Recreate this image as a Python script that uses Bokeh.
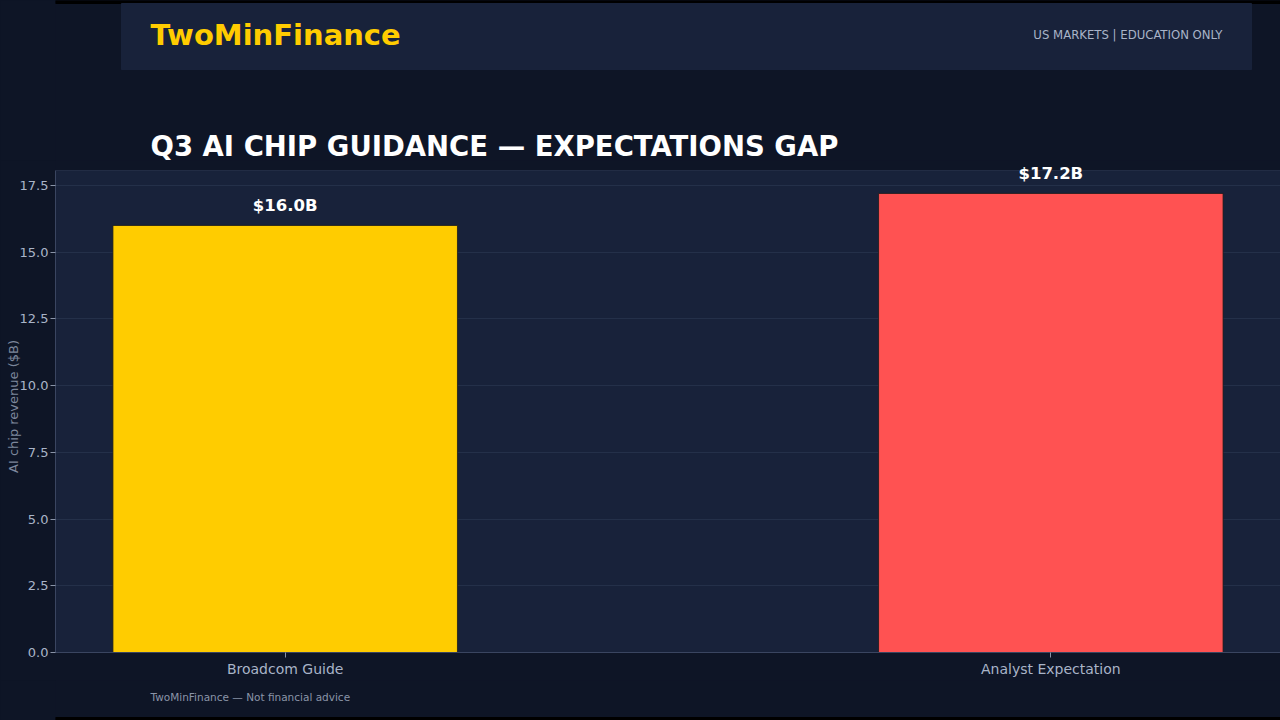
from bokeh.plotting import figure
from bokeh.layouts import column
from bokeh.models import Range1d, FixedTicker, NumeralTickFormatter, ColumnDataSource
from bokeh.core.properties import value
from bokeh.embed import file_html
from bokeh.resources import INLINE

categories = ["Broadcom Guide", "Analyst Expectation"]
revenues = [16.0, 17.2]
bar_colors = ["#ffcc00", "#ff5252"]
value_labels = ["$16.0B", "$17.2B"]
y_ticks = [0.0, 2.5, 5.0, 7.5, 10.0, 12.5, 15.0, 17.5]
y_max = 18.06

BG = "#0e1526"
PANEL = "#18223a"
FONT = "DejaVu Sans"
LEFT = 55


def blank(height):
    f = figure(width=1280, height=height, x_range=Range1d(LEFT, 1280), y_range=Range1d(height, 0),
               output_backend="svg", toolbar_location=None, min_border=0,
               min_border_left=LEFT, styles={"background-color": BG})
    f.axis.visible = False
    f.grid.visible = False
    f.outline_line_color = None
    f.background_fill_color = BG
    f.border_fill_color = BG
    return f


# ---------- header (canvas y 0..160) ----------
h = blank(160)
h.quad(left=[LEFT], right=[1280], top=[0], bottom=[3], color="#000000")
h.quad(left=[121], right=[1251], top=[3], bottom=[69], color=PANEL)
h.text(x=[150], y=[34], text=["TwoMinFinance"], text_font=value(FONT), text_font_style="bold",
       text_font_size="29px", text_color="#ffcc00", text_baseline="middle", text_align="left")
h.text(x=[1222], y=[34], text=["US MARKETS | EDUCATION ONLY"],
       text_font=value("DejaVu Sans Condensed"), text_font_size="13px", text_color="#a9b4c8",
       text_baseline="middle", text_align="right")
h.text(x=[150], y=[145], text=["Q3 AI CHIP GUIDANCE \u2014 EXPECTATIONS GAP"],
       text_font=value(FONT), text_font_style="bold", text_font_size="27.5px",
       text_color="#ffffff", text_baseline="middle", text_align="left")

# ---------- main chart (canvas y 160..680, frame 160..652) ----------
xs = list(range(len(categories)))
src = ColumnDataSource(dict(x=xs, top=revenues, color=bar_colors, label=value_labels))
px_per_unit = (652 - 170) / y_max
top_range = (652 - 160) / px_per_unit

p = figure(width=1280, height=520, x_range=Range1d(-0.3, 1.3), y_range=Range1d(0, top_range),
           output_backend="svg", toolbar_location=None, styles={"background-color": BG},
           min_border_left=LEFT, min_border_right=0, min_border_top=0, min_border_bottom=28)
p.background_fill_color = BG
p.border_fill_color = BG
p.outline_line_color = None

# plot-area panel spanning the axis ranges
p.quad(left=[-0.3], right=[1.3], bottom=[0], top=[y_max], fill_color=PANEL,
       line_color="#222c44", line_width=1, level="underlay")

p.vbar(x="x", top="top", width=0.45, bottom=0, fill_color="color", line_color="#1a1a1a",
       line_width=0.8, source=src)
p.text(x="x", y="top", text="label", source=src, text_font=value(FONT), text_font_style="bold",
       text_font_size="16.5px", text_color="#ffffff", text_align="center",
       text_baseline="bottom", y_offset=-10)

p.xaxis.ticker = FixedTicker(ticks=xs)
p.xaxis.major_label_overrides = {i: c for i, c in enumerate(categories)}
p.yaxis.ticker = FixedTicker(ticks=y_ticks)
p.yaxis.formatter = NumeralTickFormatter(format="0.0")
p.yaxis.axis_label = "AI chip revenue ($B)"

for ax in (p.xaxis[0], p.yaxis[0]):
    ax.axis_line_color = "#3a4560"
    ax.major_tick_line_color = "#8a94a8"
    ax.minor_tick_line_color = None
    ax.major_tick_in = 0
    ax.major_tick_out = 5
    ax.major_label_text_color = "#a9b4c8"
    ax.major_label_text_font = FONT
    ax.major_label_text_font_size = "14px"
    ax.major_label_standoff = 3
    ax.axis_label_text_color = "#7d879c"
    ax.axis_label_text_font = FONT
    ax.axis_label_text_font_size = "13px"
    ax.axis_label_text_font_style = "normal"
    ax.axis_label_standoff = 0

p.yaxis.major_label_text_font_size = "13px"
p.yaxis.major_label_standoff = 2
p.yaxis.axis_label_standoff = -4
p.yaxis.bounds = (0, y_max)

p.xgrid.grid_line_color = None
p.ygrid.ticker = FixedTicker(ticks=y_ticks)
p.ygrid.grid_line_color = "#243049"
p.ygrid.grid_line_width = 1

# ---------- footer (canvas y 680..720) ----------
f = blank(40)
f.text(x=[150], y=[16], text=["TwoMinFinance \u2014 Not financial advice"], text_font=value(FONT),
       text_font_size="10.5px", text_color="#8a94a8", text_baseline="middle", text_align="left")
f.quad(left=[LEFT], right=[1280], top=[37], bottom=[40], color="#000000")

layout = column(h, p, f, spacing=0, styles={"background-color": BG})
open("out.html", "w").write(file_html(layout, INLINE))
